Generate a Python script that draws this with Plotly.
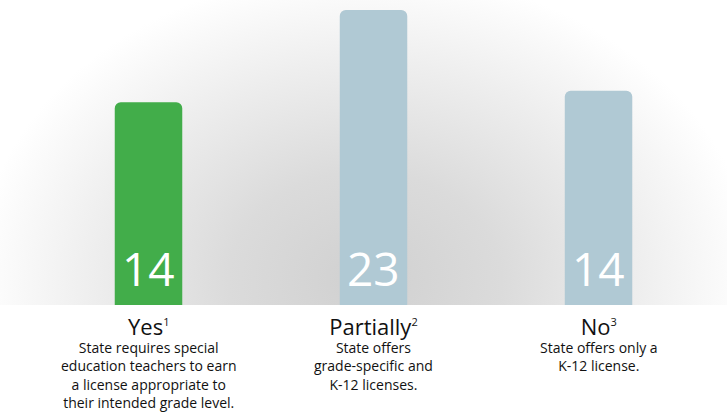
import base64
import plotly.graph_objects as go

# ---- data ----
categories = ["Yes", "Partially", "No"]
footnotes = ["1", "2", "3"]
counts = [14, 23, 14]                      # numbers printed on the bars
bar_heights = [15.8, 23, 16.7]             # bar heights as drawn in the reference (same scale as 23)
descriptions = [
    "State requires special<br>education teachers to earn<br>a license appropriate to<br>their intended grade level.",
    "State offers<br>grade-specific and<br>K-12 licenses.",
    "State offers only a<br>K-12 license.",
]
bar_colors = ["#42ad4a", "#b0c9d4"]
colors = [bar_colors[0], bar_colors[1], bar_colors[1]]

FONT = "Open Sans"
W, H = 727, 415
PLOT_H = 305

# radial grey glow behind the bars
svg = f'''<svg xmlns="http://www.w3.org/2000/svg" width="{W}" height="{PLOT_H}" viewBox="0 0 {W} {PLOT_H}">
<defs><radialGradient id="g" gradientUnits="userSpaceOnUse" cx="0" cy="0" r="1"
gradientTransform="translate(365 280) scale(390 310)">
<stop offset="0" stop-color="#d0d0d0"/>
<stop offset="0.35" stop-color="#dbdbdb"/>
<stop offset="0.7" stop-color="#eeeeee"/>
<stop offset="1" stop-color="#ffffff"/>
</radialGradient></defs>
<rect width="{W}" height="{PLOT_H}" fill="url(#g)"/></svg>'''
src = "data:image/svg+xml;base64," + base64.b64encode(svg.encode()).decode()

fig = go.Figure(go.Bar(
    x=categories, y=bar_heights, marker=dict(color=colors, line=dict(width=0)),
    width=0.3, hoverinfo="skip",
))

ann = []
for c, n, fn, d in zip(categories, counts, footnotes, descriptions):
    ann.append(dict(x=c, y=0, xref="x", yref="y", yanchor="bottom", yshift=4,
                    text=str(n), showarrow=False,
                    font=dict(family=FONT, size=46, color="white")))
    label = (f"<span style='font-size:22px'>{c}<sup><span style='font-size:11px'>{fn}</span></sup></span>"
             f"<br>{d}")
    ann.append(dict(x=c, y=0, xref="x", yref="paper", yanchor="top", yshift=-4,
                    text=label, showarrow=False,
                    font=dict(family=FONT, size=14, color="#111111")))

fig.update_layout(
    width=W, height=H,
    margin=dict(l=0, r=0, t=0, b=H - PLOT_H, pad=0),
    paper_bgcolor="white", plot_bgcolor="rgba(0,0,0,0)",
    barcornerradius=6,
    showlegend=False,
    xaxis=dict(range=[-0.66, 2.571], showticklabels=False, showgrid=False,
               zeroline=False, showline=False, fixedrange=True),
    yaxis=dict(range=[0, 23.78], showticklabels=False, showgrid=False,
               zeroline=False, showline=False, fixedrange=True),
    images=[dict(source=src, xref="paper", yref="paper", x=0, y=1, sizex=1, sizey=1,
                 xanchor="left", yanchor="top", sizing="stretch", layer="below")],
    annotations=ann,
)

fig.write_html("out.html", config={"displayModeBar": False},
               post_script="document.body.style.margin='0';")
